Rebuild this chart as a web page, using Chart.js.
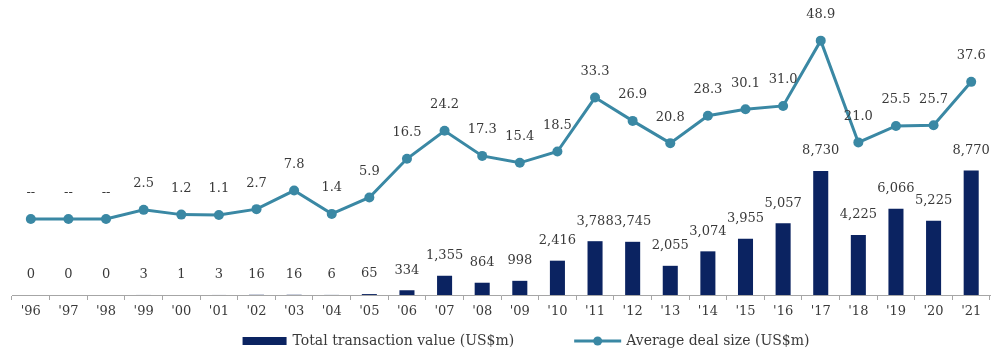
<!DOCTYPE html>
<html lang="en">
<head>
    <meta charset="UTF-8">
    <title>Transaction value and average deal size</title>
    <script src="https://cdn.jsdelivr.net/npm/chart.js"></script>
    <style>
        body { margin: 0; background: #fff; }
        #wrap { width: 1000px; height: 362px; }
    </style>
</head>
<body>
<div id="wrap"><canvas id="dealChart" width="1000" height="362"></canvas></div>
<script>
    // Years on the x axis
    const years = ["'96", "'97", "'98", "'99", "'00", "'01", "'02", "'03", "'04", "'05", "'06", "'07", "'08",
                   "'09", "'10", "'11", "'12", "'13", "'14", "'15", "'16", "'17", "'18", "'19", "'20", "'21"];

    // Total transaction value (US$m) - bars
    const totalValue = [0, 0, 0, 3, 1, 3, 16, 16, 6, 65, 334, 1355, 864,
                        998, 2416, 3788, 3745, 2055, 3074, 3955, 5057, 8730, 4225, 6066, 5225, 8770];

    // Average deal size (US$m) - line ('96-'98 shown as "--")
    const avgDeal = [0, 0, 0, 2.5, 1.2, 1.1, 2.7, 7.8, 1.4, 5.9, 16.5, 24.2, 17.3,
                     15.4, 18.5, 33.3, 26.9, 20.8, 28.3, 30.1, 31.0, 48.9, 21.0, 25.5, 25.7, 37.6];

    const barLegend = "Total transaction value (US$m)";
    const lineLegend = "Average deal size (US$m)";

    const navy = "#0b2361";
    const teal = "#3a88a4";
    const textColor = "#3a3a3a";
    const fontFamily = "'DejaVu Serif', serif";

    // Valores acima das barras e dos pontos
    const valueLabels = {
        id: "valueLabels",
        afterDatasetsDraw(chart) {
            const ctx = chart.ctx;
            ctx.save();
            ctx.font = "13px " + fontFamily;
            ctx.fillStyle = textColor;
            ctx.textAlign = "center";
            ctx.textBaseline = "middle";
            chart.getDatasetMeta(0).data.forEach((el, i) => {
                ctx.fillText(totalValue[i].toLocaleString("en-US"), el.x, el.y - 20);
            });
            chart.getDatasetMeta(1).data.forEach((el, i) => {
                const v = avgDeal[i];
                ctx.fillText(v === 0 ? "--" : v.toFixed(1), el.x, el.y - 26);
            });
            ctx.restore();
        }
    };

    // Legenda desenhada à mão abaixo do eixo
    const bottomLegend = {
        id: "bottomLegend",
        afterDraw(chart) {
            const ctx = chart.ctx;
            ctx.save();
            ctx.font = "14px " + fontFamily;
            const w1 = ctx.measureText(barLegend).width;
            const w2 = ctx.measureText(lineLegend).width;
            const total = 44 + 6 + w1 + 60 + 47 + 5 + w2;
            let x = 526 - total / 2;
            const y = 341;

            ctx.fillStyle = navy;
            ctx.fillRect(x, y - 4, 44, 8);
            x += 50;
            ctx.fillStyle = textColor;
            ctx.textBaseline = "middle";
            ctx.fillText(barLegend, x, y);
            x += w1 + 60;

            ctx.strokeStyle = teal;
            ctx.lineWidth = 3;
            ctx.beginPath();
            ctx.moveTo(x, y);
            ctx.lineTo(x + 47, y);
            ctx.stroke();
            ctx.fillStyle = teal;
            ctx.beginPath();
            ctx.arc(x + 23.5, y, 4.5, 0, Math.PI * 2);
            ctx.fill();
            x += 52;
            ctx.fillStyle = textColor;
            ctx.fillText(lineLegend, x, y);
            ctx.restore();
        }
    };

    new Chart(document.getElementById("dealChart"), {
        data: {
            labels: years,
            datasets: [
                {
                    type: "bar",
                    label: barLegend,
                    data: totalValue,
                    backgroundColor: navy,
                    barPercentage: 0.8,
                    categoryPercentage: 0.5,
                    yAxisID: "y",
                    order: 2
                },
                {
                    type: "line",
                    label: lineLegend,
                    data: avgDeal,
                    borderColor: teal,
                    backgroundColor: teal,
                    borderWidth: 3,
                    pointRadius: 5,
                    pointBackgroundColor: teal,
                    pointBorderWidth: 0,
                    tension: 0,
                    yAxisID: "yLine",
                    order: 1
                }
            ]
        },
        options: {
            responsive: false,
            animation: false,
            layout: { padding: { top: 10, left: 12, right: 10, bottom: 0 } },
            plugins: {
                legend: { display: false },
                tooltip: { enabled: false }
            },
            scales: {
                x: {
                    offset: true,
                    grid: {
                        display: true,
                        offset: true,
                        drawOnChartArea: false,
                        drawTicks: true,
                        tickLength: 5,
                        color: "#a6a6a6"
                    },
                    border: { display: true, color: "#a6a6a6", width: 1 },
                    ticks: {
                        color: textColor,
                        font: { family: fontFamily, size: 13 },
                        padding: 4,
                        maxRotation: 0,
                        autoSkip: false
                    },
                    afterFit(scale) { scale.height = 67; }
                },
                y: { display: false, min: 0, max: 20065 },
                yLine: { display: false, min: -20.84, max: 57.3 }
            }
        },
        plugins: [valueLabels, bottomLegend]
    });
</script>
</body>
</html>
